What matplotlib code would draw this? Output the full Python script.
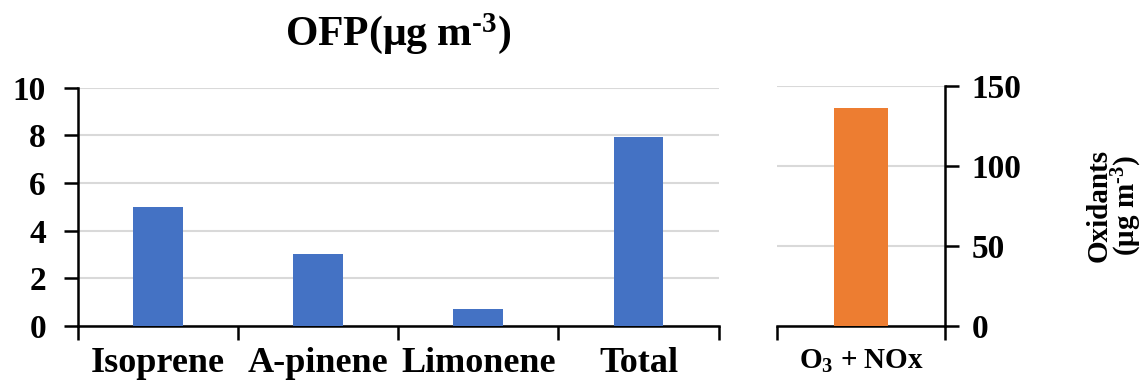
import numpy as np
import matplotlib.pyplot as plt

# OFP data (left panel)
compounds = ["Isoprene", "A-pinene", "Limonene", "Total"]
ofp_values = [5.0, 3.0, 0.7, 7.95]

# Oxidants data (right panel)
oxidant_labels = ["O$_3$ + NOx"]
oxidant_values = [136]

plt.rcParams['font.family'] = ['Liberation Serif', 'DejaVu Serif']
plt.rcParams['font.weight'] = 'bold'
plt.rcParams['mathtext.fontset'] = 'custom'
plt.rcParams['mathtext.rm'] = 'Liberation Serif:bold'
plt.rcParams['mathtext.it'] = 'Liberation Serif:bold'
plt.rcParams['mathtext.bf'] = 'Liberation Serif:bold'

blue = "#4472C4"
orange = "#ED7D31"
grid_col = "#D9D9D9"

fig = plt.figure(figsize=(11.46, 3.83), dpi=100)
ax1 = fig.add_axes([0.068, 0.149, 0.559, 0.622])
ax2 = fig.add_axes([0.678, 0.149, 0.147, 0.627])

# left panel
x = np.arange(len(compounds))
ax1.bar(x, ofp_values, width=0.31, color=blue, zorder=3)
ax1.set_xlim(-0.5, len(compounds) - 0.5)
ax1.set_ylim(0, 10)
ax1.set_yticks([0, 2, 4, 6, 8, 10])
ax1.yaxis.grid(True, color=grid_col, linewidth=1.5, zorder=0)
ax1.set_xticks(np.arange(len(compounds) + 1) - 0.5)
ax1.set_xticklabels([])
ax1.set_xticks(x, minor=True)
ax1.set_xticklabels(compounds, minor=True, fontsize=26, fontweight='bold')
ax1.tick_params(axis='x', which='minor', length=0, pad=15)
ax1.tick_params(axis='x', which='major', length=10, width=1.8, direction='out')
ax1.tick_params(axis='y', length=10, width=1.8, labelsize=24, pad=13)
for s in ['top', 'right']:
    ax1.spines[s].set_visible(False)
for s in ['left', 'bottom']:
    ax1.spines[s].set_linewidth(1.8)
ax1.set_title("OFP(μg m$^{\u2010\\mathbf{3}}$)", fontsize=30, fontweight='bold', pad=31)

# right panel
x2 = np.arange(len(oxidant_labels))
ax2.bar(x2, oxidant_values, width=0.32, color=orange, zorder=3)
ax2.set_xlim(-0.5, 0.5)
ax2.set_ylim(0, 150)
ax2.set_yticks([0, 50, 100, 150])
ax2.yaxis.grid(True, color=grid_col, linewidth=1.5, zorder=0)
ax2.yaxis.tick_right()
ax2.yaxis.set_label_position('right')
ax2.set_xticks([-0.5, 0.5])
ax2.set_xticklabels([])
ax2.set_xticks(x2, minor=True)
ax2.set_xticklabels(oxidant_labels, minor=True, fontsize=21, fontweight='bold')
ax2.tick_params(axis='x', which='minor', length=0, pad=16)
ax2.tick_params(axis='x', which='major', length=10, width=1.8, direction='out')
ax2.tick_params(axis='y', length=10, width=1.8, labelsize=24, pad=9)
for s in ['top', 'left']:
    ax2.spines[s].set_visible(False)
for s in ['right', 'bottom']:
    ax2.spines[s].set_linewidth(1.8)
ax2.set_ylabel("Oxidants\n(μg m$^{\u2010\\mathbf{3}}$)", fontsize=21, fontweight='bold',
               rotation=90, labelpad=46, linespacing=0.9)

fig.savefig("out.png", dpi=100)
